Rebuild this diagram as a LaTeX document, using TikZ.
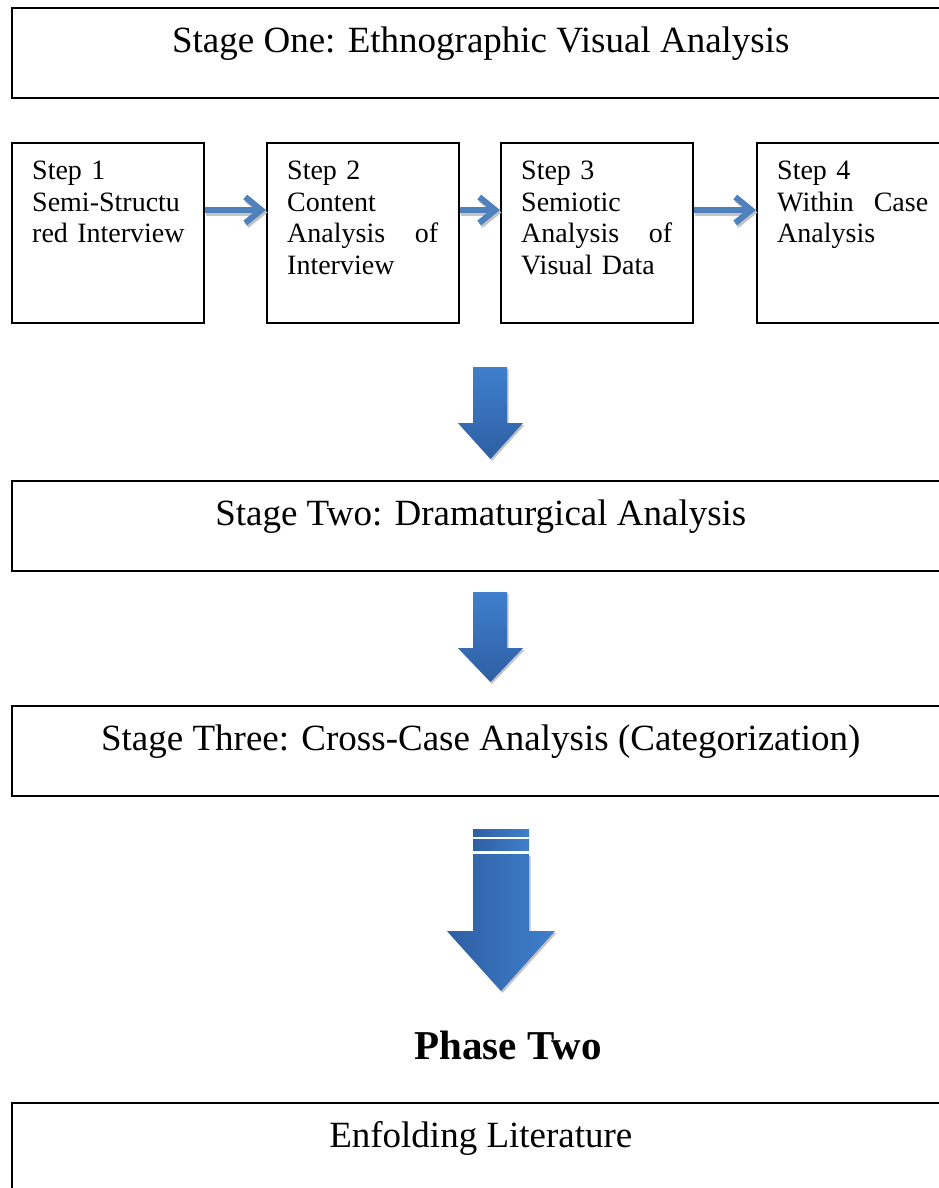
\documentclass[tikz,border=0pt]{standalone}
\usepackage{fontspec}
\setmainfont{Liberation Serif}
\usetikzlibrary{arrows.meta}
\definecolor{linkblue}{HTML}{4F81BD}
\definecolor{blocklight}{HTML}{3F7FCC}
\definecolor{blockdark}{HTML}{2E5FA3}
\definecolor{shadowgray}{HTML}{C4C4C4}

% Block arrow pointing down: shaft left/right, top, head base, head left/right, tip
\newcommand\downblockpath[7]{(#1,#3) -- (#2,#3) -- (#2,#4) -- (#6,#4) -- ({(#5+#6)/2},#7) -- (#5,#4) -- (#1,#4) -- cycle}

\begin{document}
\begin{tikzpicture}[x=1pt,y=-1pt,
  stagebox/.style={draw=black, line width=1.6pt, rectangle, inner sep=0pt,
    minimum width=938pt, minimum height=90pt, text height=45pt, text depth=45pt,
    font=\fontsize{37}{44}\selectfont},
  stepbox/.style={draw=black, line width=1.6pt, rectangle, inner sep=0pt,
    minimum width=192pt, minimum height=180pt},
  steptext/.style={inner sep=0pt, text width=151pt, align=left,
    font=\fontsize{28}{31.5}\selectfont},
  linkarrow/.style={draw=linkblue, line width=6pt,
    -{Straight Barb[length=16pt,width=26pt,line width=6pt]}},
  linkshadow/.style={draw=shadowgray, line width=6pt,
    -{Straight Barb[length=16pt,width=26pt,line width=6pt]}},
]
\useasboundingbox (0,0) rectangle (939,1188);
\clip (0,0) rectangle (939,1188);

% Stage one
\node[stagebox, anchor=north west] (s1) at (11,7) {Stage One: Ethnographic Visual Analysis};

% Four steps
\node[stepbox, anchor=north west] (st1) at (11,142) {};
\node[stepbox, anchor=north west] (st2) at (266,142) {};
\node[stepbox, anchor=north west] (st3) at (500,142) {};
\node[stepbox, anchor=north west] (st4) at (756,142) {};
\node[steptext, anchor=north west] (t1) at ([shift={(21,19)}]st1.north west) {Step 1\\Semi-Structu\\\mbox{red Interview}};
\node[steptext, anchor=north west] (t2) at ([shift={(21,19)}]st2.north west) {Step 2\\Content\\Analysis\hfill of\\Interview};
\node[steptext, anchor=north west] (t3) at ([shift={(21,19)}]st3.north west) {Step 3\\Semiotic\\Analysis\hfill of\\Visual Data};
\node[steptext, anchor=north west] (t4) at ([shift={(21,19)}]st4.north west) {Step 4\\Within\hfill Case\\Analysis};

% Links between steps (soft shadow first)
\foreach \a/\b in {st1/st2, st2/st3, st3/st4}{
  \draw[linkshadow] ([shift={(1.5,2.5)}]\a.east |- 0,210) -- ([shift={(1.5,2.5)}]\b.west |- 0,210);
  \draw[linkarrow] (\a.east |- 0,210) -- (\b.west |- 0,210);
}

% Stage two and three
\node[stagebox, anchor=north west] (s2) at (11,480) {Stage Two: Dramaturgical Analysis};
\node[stagebox, anchor=north west] (s3) at (11,705) {Stage Three: Cross-Case Analysis (Categorization)};

% Block arrows
\fill[shadowgray] [shift={(1.5,2)}] \downblockpath{473}{507}{367}{423}{458}{523}{459};
\shade[top color=blocklight, bottom color=blockdark] \downblockpath{473}{507}{367}{423}{458}{523}{459};

\fill[shadowgray] [shift={(1.5,2)}] \downblockpath{473}{507}{592}{648}{458}{523}{682};
\shade[top color=blocklight, bottom color=blockdark] \downblockpath{473}{507}{592}{648}{458}{523}{682};

\fill[shadowgray] [shift={(1.5,2)}] \downblockpath{473}{529}{854}{931}{447}{555}{991};
\shade[left color=blockdark, right color=blocklight] \downblockpath{473}{529}{854}{931}{447}{555}{991};
\shade[left color=blockdark, right color=blocklight] (473,829) rectangle (529,836);
\shade[left color=blockdark, right color=blocklight] (473,839) rectangle (529,850);

% Phase two
\node[anchor=base, inner sep=0pt, font=\fontsize{41}{48}\selectfont\bfseries] (p2) at (508,1059) {Phase Two};

\node[stagebox, anchor=north west, minimum height=120pt, text height=45pt, text depth=75pt] (lit) at (11,1102) {Enfolding Literature};
\end{tikzpicture}
\end{document}
